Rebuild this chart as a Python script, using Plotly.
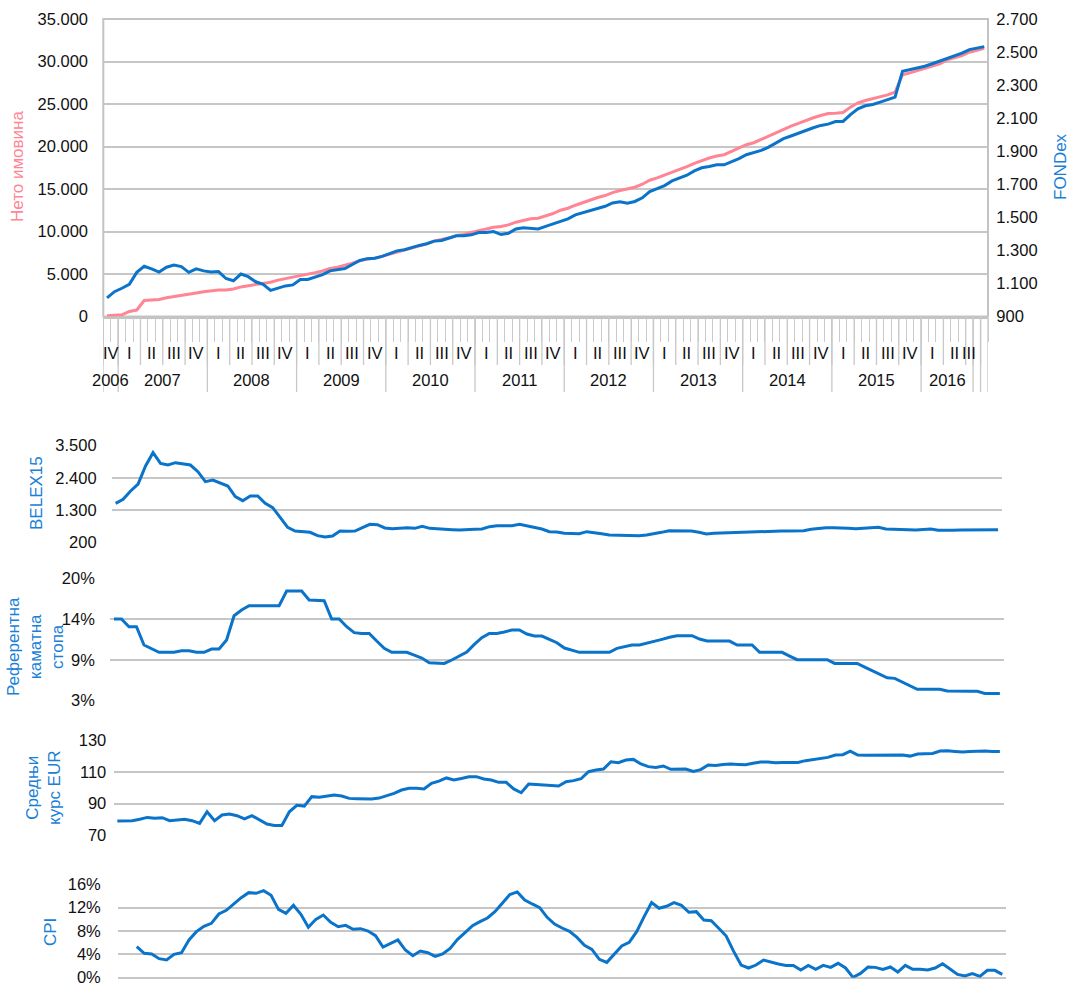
import plotly.graph_objects as go

W, H = 1072, 986


def fx(p):
    return p / W


def fy(p):
    return 1 - p / H


# ---------------- categories (monthly, Nov 2006 - Sep 2016) ----------------
months = []
for yr in range(2006, 2017):
    for mo in range(1, 13):
        if (yr == 2006 and mo < 11) or (yr == 2016 and mo > 9):
            continue
        months.append(f"{yr}-{mo:02d}")

ROMAN = ["I", "II", "III", "IV"]
BLANK_LABEL_MONTHS = ["2016-08", "2016-09"]   # no quarter / year label in source

# ---------------- series ----------------
net_assets = [100, 150, 200, 600, 760, 1880, 1920, 2000, 2200, 2320,
              2440, 2560, 2760, 2920, 3040, 3120, 3120, 3240, 3480, 3600,
              3720, 3840, 4040, 4280, 4440, 4600, 4840, 5000, 5160, 5360,
              5640, 5800, 6000, 6280, 6560, 6760, 6840, 7080, 7400, 7600,
              7847, 8121, 8356, 8551, 8865, 9021, 9256, 9530, 9648, 9883,
              10117, 10274, 10509, 10587, 10783, 11096, 11331, 11488, 11566, 11840,
              12114, 12506, 12740, 13093, 13406, 13680, 13993, 14228, 14581, 14815,
              14972, 15207, 15559, 16029, 16303, 16616, 17008, 17282, 17634, 18026,
              18378, 18641, 18876, 19032, 19424, 19855, 20207, 20442, 20833, 21225,
              21695, 22086, 22399, 22713, 23065, 23378, 23652, 23887, 23926, 24005,
              24631, 25140, 25414, 25610, 25884, 26079, 26393, 28428, 28663, 28937,
              29133, 29407, 29720, 30190, 30425, 30699, 31091, 31286, 31560]

fondex = [1013, 1050, 1071, 1095, 1167, 1204, 1188, 1169, 1198, 1211,
          1202, 1167, 1188, 1176, 1169, 1172, 1130, 1116, 1157, 1141,
          1110, 1095, 1058, 1071, 1085, 1091, 1124, 1124, 1137, 1153,
          1176, 1182, 1190, 1215, 1239, 1250, 1252, 1264, 1281, 1297,
          1304, 1318, 1330, 1340, 1356, 1360, 1372, 1388, 1388, 1394,
          1408, 1408, 1414, 1396, 1404, 1430, 1437, 1435, 1430, 1445,
          1459, 1475, 1491, 1515, 1527, 1539, 1555, 1567, 1587, 1594,
          1585, 1596, 1618, 1656, 1674, 1692, 1720, 1736, 1755, 1781,
          1800, 1808, 1818, 1818, 1835, 1855, 1879, 1891, 1905, 1925,
          1951, 1976, 1992, 2010, 2026, 2042, 2056, 2064, 2080, 2080,
          2122, 2157, 2175, 2183, 2197, 2211, 2227, 2384, 2394, 2408,
          2414, 2429, 2445, 2465, 2479, 2493, 2515, 2523, 2533]

belex15 = [1525, 1662, 1947, 2187, 2804, 3261, 2895, 2838, 2918, 2884,
           2838, 2610, 2267, 2324, 2210, 2119, 1753, 1616, 1776, 1776,
           1525, 1376, 1045, 702, 577, 554, 531, 417, 371, 406,
           577, 565, 577, 691, 805, 794, 680, 657, 668, 691,
           668, 737, 668, 645, 634, 623, 611, 634, 634, 645,
           725, 760, 760, 760, 805, 760, 702, 645, 554, 543,
           497, 486, 486, 554, 531, 486, 440, 428, 428, 417,
           417, 440, 474, 531, 588, 588, 588, 577, 531, 474,
           497, 508, 520, 520, 531, 554, 565, 554, 565, 577,
           577, 577, 588, 634, 668, 691, 691, 668, 668, 657,
           680, 702, 702, 645, 645, 634, 623, 611, 623, 645,
           600, 588, 600, 611, 611, 611, 634, 623, 623]

key_rate = [14.38, 14.38, 13.31, 13.31, 10.76, 10.29, 9.74, 9.74, 9.74, 9.97,
            9.97, 9.74, 9.74, 10.2, 10.2, 11.45, 14.84, 15.63, 16.24, 16.24,
            16.24, 16.24, 16.24, 18.28, 18.28, 18.28, 17.03, 16.94, 16.94, 14.38,
            14.38, 13.31, 12.48, 12.38, 12.38, 11.31, 10.29, 9.74, 9.74, 9.74,
            9.36, 8.95, 8.3, 8.2, 8.2, 8.67, 9.22, 9.78, 10.85, 11.78,
            12.38, 12.38, 12.57, 12.85, 12.85, 12.29, 12.01, 12.01, 11.55, 11.08,
            10.34, 10.06, 9.74, 9.74, 9.74, 9.74, 9.74, 10.29, 10.53, 10.76,
            10.76, 10.99, 11.22, 11.55, 11.83, 12.06, 12.06, 12.06, 11.59, 11.31,
            11.31, 11.31, 11.31, 10.76, 10.76, 10.76, 9.74, 9.74, 9.74, 9.74,
            9.22, 8.71, 8.71, 8.71, 8.71, 8.71, 8.2, 8.2, 8.2, 8.2,
            7.69, 7.18, 6.67, 6.2, 6.11, 5.6, 5.09, 4.58, 4.58, 4.58,
            4.58, 4.35, 4.3, 4.3, 4.3, 4.3, 4.02, 4.02, 4.02]

eur_rate = [78.9, 79.1, 79.1, 80.0, 81.2, 80.6, 81.0, 79.1, 79.5, 80.0,
            79.1, 77.4, 84.8, 79.1, 82.7, 83.4, 82.3, 80.2, 82.3, 79.5,
            77.0, 76.1, 76.1, 84.8, 88.9, 88.4, 94.4, 94.0, 94.8, 95.4,
            94.8, 93.3, 93.1, 92.9, 92.9, 93.5, 94.8, 96.5, 98.6, 99.7,
            99.7, 99.3, 102.9, 104.3, 106.3, 105.0, 106.0, 107.1, 107.1, 105.6,
            105.0, 103.5, 103.5, 99.3, 96.9, 102.4, 102.2, 101.8, 101.4, 101.2,
            103.9, 104.6, 105.8, 110.3, 111.3, 112.0, 116.6, 116.0, 117.7, 118.1,
            115.2, 113.5, 113.0, 113.9, 111.8, 111.8, 112.0, 110.5, 111.6, 114.5,
            114.3, 114.9, 115.2, 114.9, 114.7, 115.6, 116.4, 116.4, 116.0, 116.2,
            116.2, 116.2, 117.3, 118.1, 119.0, 119.4, 120.9, 121.1, 123.4, 120.9,
            120.7, 120.7, 121.1, 121.1, 120.9, 120.9, 120.2, 121.5, 121.7, 121.9,
            123.4, 123.6, 123.2, 122.8, 123.2, 123.4, 123.4, 123.2, 123.2]

cpi = [None, None, 5.31, 4.17, 4.06, 3.26, 3.03, 4.0, 4.29, 6.46,
       7.89, 8.8, 9.31, 10.91, 11.54, 12.63, 13.71, 14.57, 14.46, 14.91,
       14.11, 11.71, 11.03, 12.4, 10.86, 8.63, 10.0, 10.74, 9.49, 8.74,
       8.97, 8.29, 8.4, 8.0, 7.2, 5.26, 5.83, 6.46, 4.74, 3.77,
       4.57, 4.29, 3.66, 4.06, 5.03, 6.57, 7.71, 8.91, 9.6, 10.23,
       11.31, 12.8, 14.23, 14.69, 13.31, 12.63, 12.0, 10.34, 9.2, 8.51,
       7.94, 6.91, 5.54, 4.86, 3.14, 2.63, 4.0, 5.43, 6.06, 7.89,
       10.46, 12.86, 11.89, 12.23, 12.86, 12.4, 11.2, 11.31, 9.89, 9.77,
       8.46, 7.14, 4.51, 2.17, 1.66, 2.17, 3.03, 2.63, 2.34, 2.11,
       2.11, 1.31, 2.11, 1.43, 2.11, 1.77, 2.46, 1.66, 0.06, 0.74,
       1.83, 1.77, 1.43, 1.83, 0.97, 2.11, 1.43, 1.43, 1.31, 1.66,
       2.4, 1.49, 0.57, 0.29, 0.69, 0.23, 1.26, 1.26, 0.57]

rate_ticks = [3, 3 + 17 / 3, 3 + 34 / 3, 20]
rate_tick_text = ["3%", "9%", "14%", "20%"]

# ---------------- style ----------------
PINK = "#FF8594"
BLUE = "#0A73CA"
TITLE_BLUE = "#1A7FD6"
GRID = "#C6C6C6"
AXC = "#C3C3C3"
FONT = "Arial, 'Liberation Sans', sans-serif"
TXT = "#111111"
FS = 16.5

fig = go.Figure()
fig.add_trace(go.Scatter(x=months, y=net_assets, xaxis="x", yaxis="y", mode="lines",
                         line=dict(color=PINK, width=3), name="Нето имовина"))
fig.add_trace(go.Scatter(x=months, y=fondex, xaxis="x", yaxis="y2", mode="lines",
                         line=dict(color=BLUE, width=3), name="FONDex"))
fig.add_trace(go.Scatter(x=months, y=belex15, xaxis="x2", yaxis="y3", mode="lines",
                         line=dict(color=BLUE, width=3), name="BELEX15"))
fig.add_trace(go.Scatter(x=months, y=key_rate, xaxis="x3", yaxis="y4", mode="lines",
                         line=dict(color=BLUE, width=3), name="Референтна каматна стопа"))
fig.add_trace(go.Scatter(x=months, y=eur_rate, xaxis="x4", yaxis="y5", mode="lines",
                         line=dict(color=BLUE, width=3), name="Средњи курс EUR"))
fig.add_trace(go.Scatter(x=months, y=cpi, xaxis="x5", yaxis="y6", mode="lines",
                         line=dict(color=BLUE, width=3), name="CPI"))

tickfont = dict(family=FONT, size=FS, color=TXT)
xr = [-0.5, len(months) - 0.5]


def hidden_x(domain, anchor):
    return dict(domain=domain, anchor=anchor, type="category", categoryarray=months,
                range=xr, visible=False, showgrid=False, zeroline=False,
                automargin=False)


def grid_y(domain, anchor, rng, standoff, **kw):
    d = dict(domain=domain, anchor=anchor, range=rng, showgrid=True, gridcolor=GRID,
             gridwidth=1.5, zeroline=False, showline=False, ticks="outside",
             ticklen=standoff, tickcolor="rgba(0,0,0,0)", tickfont=tickfont,
             automargin=False, ticklabeloverflow="allow")
    d.update(kw)
    return d


TOP_L, TOP_R, TOP_T, TOP_B = 103.3, 988, 19, 316.5

fig.update_layout(
    width=W, height=H, margin=dict(l=0, r=0, t=0, b=0, autoexpand=False),
    paper_bgcolor="white", plot_bgcolor="white", showlegend=False,
    separators=",.", font=dict(family=FONT, size=FS, color=TXT),
    xaxis=dict(domain=[fx(TOP_L), fx(TOP_R)], anchor="y", type="category",
               categoryarray=months, range=xr, tickmode="linear", tick0=0, dtick=1,
               tickson="boundaries", ticks="outside", ticklen=24, tickwidth=1.2,
               tickcolor="#CACACA", showticklabels=False, showgrid=False,
               zeroline=False, showline=True, linecolor=AXC, linewidth=1.5,
               automargin=False),
    yaxis=grid_y([fy(TOP_B), fy(TOP_T)], "x", [0, 35000], 11,
                 tick0=0, dtick=5000, tickformat=",.0f"),
    yaxis2=dict(overlaying="y", side="right", anchor="x", range=[900, 2700],
                tick0=900, dtick=200, tickformat=",.0f", showgrid=False,
                zeroline=False, ticks="outside", ticklen=4,
                tickcolor="rgba(0,0,0,0)", tickfont=tickfont, automargin=False),
    xaxis2=hidden_x([fx(111.9), fx(1001.8)], "y3"),
    yaxis3=grid_y([fy(542), fy(445.7)], "x2", [200, 3500], 11,
                  tick0=200, dtick=1100, tickformat=",.0f"),
    xaxis3=hidden_x([fx(110.2), fx(1003.6)], "y4"),
    yaxis4=grid_y([fy(700.7), fy(578.7)], "x3", [3, 20], 11,
                  tickmode="array", tickvals=rate_ticks, ticktext=rate_tick_text),
    xaxis4=hidden_x([fx(113.6), fx(1003.6)], "y5"),
    yaxis5=grid_y([fy(835), fy(740.7)], "x4", [70, 130], 3,
                  tick0=70, dtick=20),
    xaxis5=hidden_x([fx(118.1), fx(1006)], "y6"),
    yaxis6=grid_y([fy(977.7), fy(884.3)], "x5", [0, 16], 13,
                  tick0=0, dtick=4, ticksuffix="%", zeroline=True,
                  zerolinecolor=GRID, zerolinewidth=1.5),
)

shapes = []
# plot-area border of the top chart
shapes.append(dict(type="rect", xref="paper", yref="paper",
                   x0=fx(TOP_L), x1=fx(TOP_R), y0=fy(TOP_B), y1=fy(TOP_T),
                   line=dict(color=AXC, width=2), layer="below"))


# multi-level category labels (quarter / year) and divider lines
def cell_keys(level):
    keys = []
    for i, m in enumerate(months):
        yr, mo = int(m[:4]), int(m[5:])
        if m in BLANK_LABEL_MONTHS:
            keys.append(("", i))
        elif level == "q":
            keys.append((ROMAN[(mo - 1) // 3], yr))
        else:
            keys.append((str(yr), yr))
    return keys


def groups(keys):
    out = []
    start = 0
    for i in range(1, len(keys) + 1):
        if i == len(keys) or keys[i] != keys[start]:
            out.append((start, i - 1, keys[start][0]))
            start = i
    return out


annotations = []
q_groups = groups(cell_keys("q"))
y_groups = groups(cell_keys("y"))
Q_BOTTOM, Y_BOTTOM = 365, 392
DIV = dict(color="#C8C8C8", width=1.3)
for s, e, lab in q_groups:
    shapes.append(dict(type="line", xref="x", yref="paper", x0=s - 0.5, x1=s - 0.5,
                       y0=fy(TOP_B), y1=fy(Q_BOTTOM), line=DIV))
    if lab:
        annotations.append(dict(x=(s + e) / 2, y=fy(353), xref="x", yref="paper",
                                text=lab, showarrow=False, yanchor="middle",
                                font=dict(family=FONT, size=FS, color=TXT)))
for s, e, lab in y_groups:
    shapes.append(dict(type="line", xref="x", yref="paper", x0=s - 0.5, x1=s - 0.5,
                       y0=fy(TOP_B), y1=fy(Y_BOTTOM), line=DIV))
    if lab:
        annotations.append(dict(x=(s + e) / 2, y=fy(380), xref="x", yref="paper",
                                text=lab, showarrow=False, yanchor="middle",
                                font=dict(family=FONT, size=FS, color=TXT)))
shapes.append(dict(type="line", xref="x", yref="paper", x0=len(months) - 0.5,
                   x1=len(months) - 0.5, y0=fy(TOP_B), y1=fy(Y_BOTTOM), line=DIV))


# axis titles
def vtitle(text, x, y, color):
    return dict(text=text, x=fx(x), y=fy(y), xref="paper", yref="paper",
                showarrow=False, textangle=-90, xanchor="center", yanchor="middle",
                align="center", font=dict(family=FONT, size=17, color=color))


annotations += [
    vtitle("Нето имовина", 17, 167, PINK),
    vtitle("FONDex", 1060, 167, TITLE_BLUE),
    vtitle("BELEX15", 36, 493, TITLE_BLUE),
    vtitle("Референтна<br>каматна<br>стопа", 35, 647, TITLE_BLUE),
    vtitle("Средњи<br>курс EUR", 43, 788, TITLE_BLUE),
    vtitle("CPI", 50, 932, TITLE_BLUE),
]

fig.update_layout(shapes=shapes, annotations=annotations)
fig.write_html("out.html",
               config={"displayModeBar": False},
               post_script="document.body.style.margin='0';"
                           "document.body.style.overflow='hidden';")
